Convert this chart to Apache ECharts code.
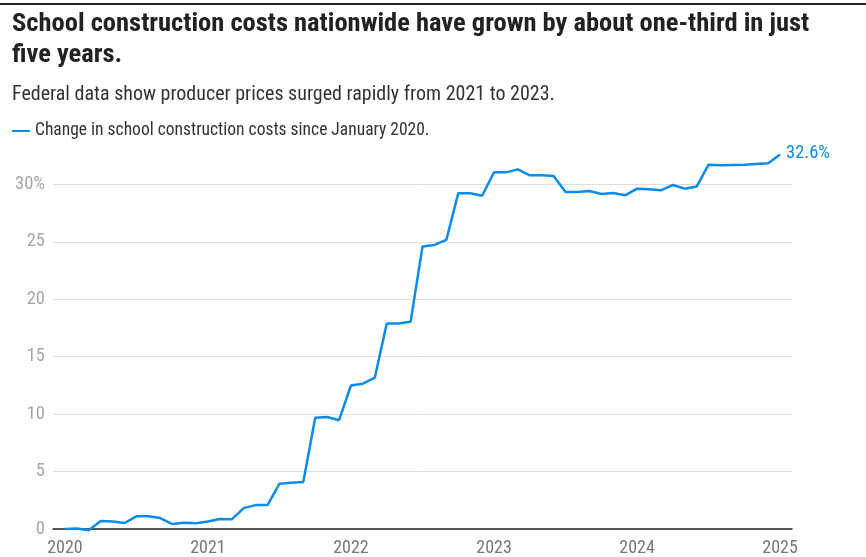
<!DOCTYPE html>
<html>
<head>
<meta charset="utf-8">
<script src="https://cdn.jsdelivr.net/npm/echarts@6/dist/echarts.min.js"></script>
<style>
html,body{margin:0;padding:0;background:#fff;}
#top{position:absolute;left:0;top:3px;width:866px;height:2px;background:#222;}
#chart{width:866px;height:557px;}
</style>
</head>
<body>
<div id="top"></div>
<div id="chart"></div>
<script>
// Monthly change in school construction costs since January 2020 (%), Jan 2020 .. Jan 2025
const startYear = 2020;
const values = [
  0.0, 0.05, -0.1, 0.7, 0.65, 0.52, 1.1, 1.1, 0.95, 0.43, 0.55, 0.5,
  0.66, 0.87, 0.84, 1.82, 2.08, 2.08, 3.94, 4.02, 4.1, 9.68, 9.75, 9.47,
  12.49, 12.65, 13.18, 17.88, 17.88, 18.03, 24.58, 24.72, 25.16, 29.22, 29.22, 29.0,
  31.04, 31.04, 31.3, 30.78, 30.78, 30.72, 29.33, 29.33, 29.42, 29.16, 29.25, 29.04,
  29.62, 29.57, 29.48, 29.94, 29.62, 29.8, 31.71, 31.65, 31.68, 31.71, 31.77, 31.83,
  32.6
];
const yearTicks = [2020, 2021, 2022, 2023, 2024, 2025];
const yTicks = [0, 5, 10, 15, 20, 25, 30];
const seriesName = 'Change in school construction costs since January 2020.';
const endLabelText = '32.6%';

const FONT = "'Liberation Sans Narrow', 'Roboto Condensed', 'DejaVu Sans Condensed', Roboto, sans-serif";
const data = values.map((v, i) => [i, v]);
const chart = echarts.init(document.getElementById('chart'));
chart.setOption({
  animation: false,
  title: [
    {
      text: 'School construction costs nationwide have grown by about one-third in just\nfive years.',
      left: 12, top: 9, padding: 0,
      textStyle: {fontFamily: FONT, fontSize: 26.5, fontWeight: 'bold', color: '#222', lineHeight: 31}
    },
    {
      text: 'Federal data show producer prices surged rapidly from 2021 to 2023.',
      left: 12, top: 85, padding: 0,
      textStyle: {fontFamily: FONT, fontSize: 20, fontWeight: 'normal', color: '#333'}
    }
  ],
  legend: {
    left: 12, top: 122, padding: 0, itemWidth: 18, itemHeight: 2, itemGap: 10,
    icon: 'rect',
    textStyle: {fontFamily: FONT, fontSize: 17.5, color: '#333'},
    data: [{name: seriesName, icon: 'rect'}]
  },
  grid: {left: 53, right: 74, top: 184.3, bottom: 27.7, containLabel: false},
  xAxis: {
    type: 'value', min: -1, max: 61,
    axisLine: {show: true, lineStyle: {color: '#222', width: 1.5}},
    axisTick: {show: false},
    splitLine: {show: false},
    axisLabel: {
      customValues: yearTicks.map(y => (y - startYear) * 12),
      formatter: v => String(startYear + Math.round(v / 12)),
      fontFamily: FONT, fontSize: 18, color: '#777', margin: 10
    }
  },
  yAxis: {
    type: 'value', min: 0, max: 30, interval: 5,
    axisLine: {show: false}, axisTick: {show: false},
    splitLine: {lineStyle: {color: '#ddd', width: 1}},
    axisLabel: {
      customValues: yTicks,
      formatter: v => v === 30 ? v + '%' : String(v),
      fontFamily: FONT, fontSize: 18.5, color: '#a6a6a6', margin: 8
    }
  },
  series: [{
    name: seriesName, type: 'line', data: data, clip: false,
    showSymbol: false, symbol: 'none',
    lineStyle: {color: '#0b8ce8', width: 2.5},
    itemStyle: {color: '#0b8ce8'},
    endLabel: {
      show: true, formatter: () => endLabelText,
      fontFamily: FONT, fontSize: 18.5, color: '#0b8ce8', distance: 6, offset: [0, -1]
    }
  }]
});
</script>
</body>
</html>
